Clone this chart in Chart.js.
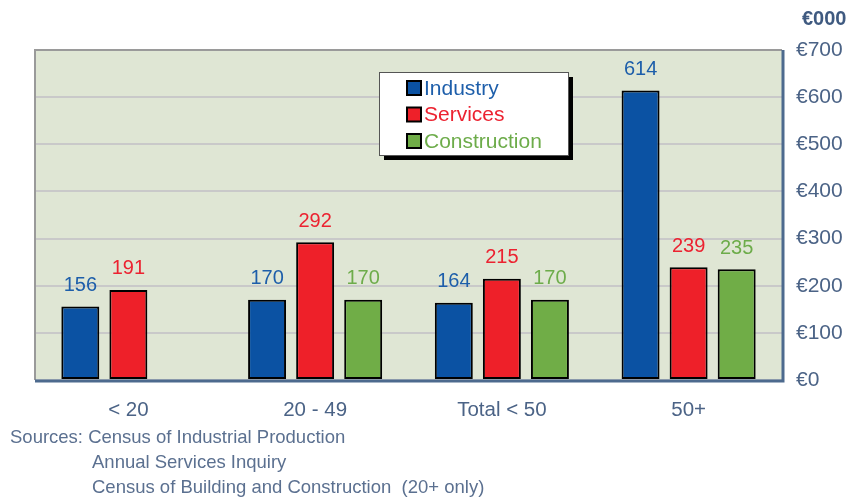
<!DOCTYPE html>
<html>
<head>
<meta charset="UTF-8">
<title>Turnover per enterprise by size class</title>
<style>
html, body { margin: 0; padding: 0; background: #fff; }
.chart-container { width: 850px; height: 497px; position: relative; }
</style>
<script src="https://cdn.jsdelivr.net/npm/chart.js"></script>
</head>
<body>
<div class="chart-container">
	<canvas id="bar-chart"></canvas>
</div>
<script>
const sizeClasses = ['< 20', '20 - 49', 'Total < 50', '50+'];
const industry = [156, 170, 164, 614];
const services = [191, 292, 215, 239];
const construction = [null, 170, 170, 235];
const yTicks = [0, 100, 200, 300, 400, 500, 600, 700];
const sources = [
	'Sources: Census of Industrial Production',
	'Annual Services Inquiry',
	'Census of Building and Construction  (20+ only)'
];

const FONT = '"Liberation Sans", Arial, sans-serif';
const AXIS_TEXT = '#4b6386';

// series colours: bar fill and label text
const series = [
	{ label: 'Industry', data: industry, fill: '#0b52a3', text: '#1d5eaa' },
	{ label: 'Services', data: services, fill: '#ee2029', text: '#ec2230' },
	{ label: 'Construction', data: construction, fill: '#70ad47', text: '#6dac4a' }
];

// plot background, frame, legend, value labels and footnote
const decor = {
	id: 'decor',
	beforeDraw(chart) {
		const { ctx, chartArea: a } = chart;
		ctx.save();
		ctx.fillStyle = '#dfe6d4';
		ctx.fillRect(a.left, a.top, a.right - a.left, a.bottom - a.top);
		ctx.restore();
	},
	afterDatasetsDraw(chart) {
		const { ctx, chartArea: a } = chart;
		ctx.save();
		// frame
		ctx.strokeStyle = '#9a9a9a';
		ctx.lineWidth = 2;
		ctx.beginPath();
		ctx.moveTo(a.left, a.bottom);
		ctx.lineTo(a.left, a.top);
		ctx.lineTo(a.right, a.top);
		ctx.stroke();
		ctx.strokeStyle = '#4d6a8e';
		ctx.lineWidth = 3;
		ctx.beginPath();
		ctx.moveTo(a.left, a.bottom + 1);
		ctx.lineTo(a.right + 1, a.bottom + 1);
		ctx.lineTo(a.right + 1, a.top);
		ctx.stroke();

		// value labels
		ctx.font = '20px ' + FONT;
		ctx.textAlign = 'center';
		ctx.textBaseline = 'bottom';
		chart.data.datasets.forEach((ds, i) => {
			chart.getDatasetMeta(i).data.forEach((bar, j) => {
				if (ds.data[j] == null) return;
				ctx.fillStyle = series[i].text;
				ctx.fillText(ds.data[j], bar.x, bar.y - 11);
			});
		});

		// legend box
		const lx = 379, ly = 72, lw = 189, lh = 83;
		ctx.fillStyle = '#000';
		ctx.fillRect(lx + 5, ly + 5, lw, lh);
		ctx.fillStyle = '#fff';
		ctx.fillRect(lx, ly, lw, lh);
		ctx.strokeStyle = '#555';
		ctx.lineWidth = 1;
		ctx.strokeRect(lx + 0.5, ly + 0.5, lw, lh);
		ctx.font = '21px ' + FONT;
		ctx.textAlign = 'left';
		ctx.textBaseline = 'middle';
		series.forEach((s, i) => {
			const cy = 88 + i * 26.5;
			ctx.fillStyle = s.fill;
			ctx.fillRect(407, cy - 7, 14, 14);
			ctx.strokeStyle = '#000';
			ctx.lineWidth = 2;
			ctx.strokeRect(407, cy - 7, 14, 14);
			ctx.fillStyle = s.text;
			ctx.fillText(s.label, 424, cy + 1);
		});

		// unit above the axis
		ctx.font = 'bold 20px ' + FONT;
		ctx.fillStyle = '#3f5a80';
		ctx.textAlign = 'left';
		ctx.fillText('€000', 802, 19);

		// sources
		ctx.font = '18.5px ' + FONT;
		ctx.fillStyle = '#5b7090';
		ctx.fillText(sources[0], 10, 438);
		ctx.fillText(sources[1], 92, 463);
		ctx.fillText(sources[2], 92, 488);
		ctx.restore();
	}
};

const config = {
	type: 'bar',
	data: {
		labels: sizeClasses,
		datasets: series.map(s => ({
			label: s.label,
			data: s.data,
			backgroundColor: s.fill,
			borderColor: '#000',
			borderWidth: 2,
			borderSkipped: false,
			categoryPercentage: 0.772,
			barPercentage: 0.79
		}))
	},
	options: {
		responsive: false,
		animation: false,
		layout: { padding: { left: 35, top: 50, right: 0, bottom: 0 } },
		plugins: {
			legend: { display: false },
			tooltip: { enabled: false }
		},
		scales: {
			x: {
				grid: { display: false, drawTicks: false },
				border: { display: false },
				ticks: { color: AXIS_TEXT, font: { family: FONT, size: 20.5 }, padding: 18 },
				afterFit(scale) { scale.height = 117; }
			},
			y: {
				position: 'right',
				min: 0,
				max: 700,
				afterBuildTicks(scale) { scale.ticks = yTicks.map(v => ({ value: v })); },
				grid: { color: '#c9c9c9', lineWidth: 2, drawTicks: false },
				border: { display: false },
				ticks: {
					color: AXIS_TEXT,
					font: { family: FONT, size: 21 },
					padding: 14,
					callback: v => '€' + v
				},
				afterFit(scale) { scale.width = 68; }
			}
		}
	},
	plugins: [decor]
};

const canvas = document.querySelector('#bar-chart');
canvas.width = 850;
canvas.height = 497;
new Chart(canvas, config);
</script>
</body>
</html>
